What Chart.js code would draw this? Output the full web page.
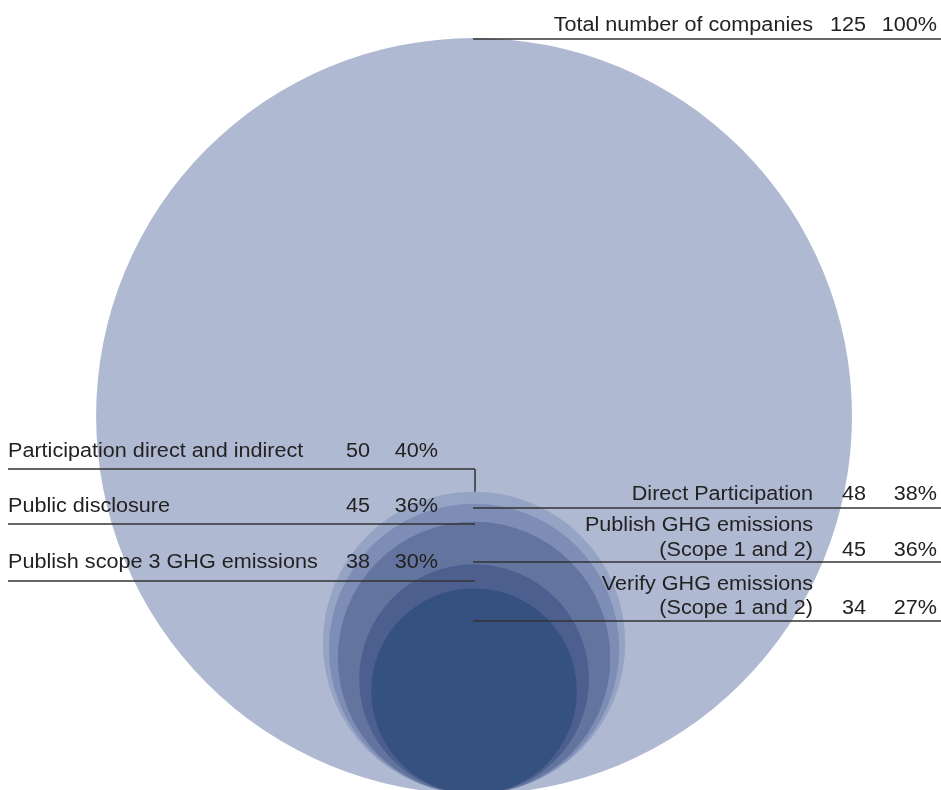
<!DOCTYPE html>
<html>
<head>
<meta charset="utf-8">
<script src="https://cdn.jsdelivr.net/npm/chart.js@4"></script>
<style>
    html, body { margin: 0; padding: 0; background: #fff; }
    #wrap { width: 941px; height: 790px; }
</style>
</head>
<body>
<div id="wrap"><canvas id="chart"></canvas></div>
<script>
// circles, biggest first, all sitting on the same bottom line
const categories = [
    "Total number of companies",
    "Participation direct and indirect",
    "Direct Participation",
    "Public disclosure",
    "Publish GHG emissions (Scope 1 and 2)",
    "Publish scope 3 GHG emissions",
    "Verify GHG emissions (Scope 1 and 2)",
];
const counts = [125, 50, 48, 45, 45, 38, 34];
const shares = ["100%", "40%", "38%", "36%", "36%", "30%", "27%"];
const fills = ["#b0b9d2", "#95a3c4", "#7d8db5", "#63749f", "#63749f", "#4c5f8e", "#34517f"];

const FONT = '20px "Liberation Sans", Arial, sans-serif';
const STRETCH = 1.08; // the source type is set a little wide
const INK = "#222";
const RULE = "#333";

// label layout: side, text lines, baselines, rule y
const labelLayout = [
    { side: "right", lines: ["Total number of companies"], base: [31], rule: 39 },
    { side: "left", lines: ["Participation direct and indirect"], base: [457], rule: 469, drop: true },
    { side: "right", lines: ["Direct Participation"], base: [500], rule: 508 },
    { side: "left", lines: ["Public disclosure"], base: [512], rule: 524 },
    { side: "right", lines: ["Publish GHG emissions", "(Scope 1 and 2)"], base: [531, 556], rule: 562 },
    { side: "left", lines: ["Publish scope 3 GHG emissions"], base: [568], rule: 581 },
    { side: "right", lines: ["Verify GHG emissions", "(Scope 1 and 2)"], base: [590, 614], rule: 621 },
];

function text(c, s, x, y, align) {
    c.save();
    c.translate(x, y);
    c.scale(STRETCH, 1);
    c.textAlign = align;
    c.fillText(s, 0, 0);
    c.restore();
}

const labelPlugin = {
    id: "labels",
    afterDatasetsDraw(chart) {
        const c = chart.ctx;
        const xs = chart.scales.x;
        const ys = chart.scales.y;
        const cx = xs.getPixelForValue(0);
        c.save();
        c.font = FONT;
        c.fillStyle = INK;
        c.textBaseline = "alphabetic";
        labelLayout.forEach((L, i) => {
            c.strokeStyle = RULE;
            c.lineWidth = 1.5;
            c.beginPath();
            if (L.side === "right") {
                c.moveTo(cx - 1, L.rule);
                c.lineTo(941, L.rule);
            } else {
                c.moveTo(8, L.rule);
                c.lineTo(cx + 1, L.rule);
            }
            if (L.drop) {
                // little tick down to the top of the circle
                const top = ys.getPixelForValue(counts[i] * 2);
                c.moveTo(cx + 1, L.rule);
                c.lineTo(cx + 1, top);
            }
            c.stroke();

            const last = L.lines.length - 1;
            if (L.side === "right") {
                L.lines.forEach((t, k) => text(c, t, 813, L.base[k], "right"));
                text(c, String(counts[i]), 866, L.base[last], "right");
                text(c, shares[i], 937, L.base[last], "right");
            } else {
                L.lines.forEach((t, k) => text(c, t, 8, L.base[k], "left"));
                text(c, String(counts[i]), 370, L.base[last], "right");
                text(c, shares[i], 438, L.base[last], "right");
            }
        });
        c.restore();
    },
};

// same pixels per unit on both axes; circle centre at y = count so all bottoms sit on y = 0
const chart = new Chart(document.getElementById("chart"), {
    type: "bubble",
    data: {
        datasets: [
            {
                data: counts.map((v) => ({ x: 0, y: v, r: 0 })),
                backgroundColor: fills,
                borderWidth: 0,
            },
        ],
    },
    options: {
        responsive: true,
        maintainAspectRatio: false,
        animation: false,
        events: [],
        layout: { padding: 0, autoPadding: false },
        clip: false,
        scales: {
            x: { type: "linear", display: false, min: -156.75, max: 154.4 },
            y: { type: "linear", display: false, min: 1.32, max: 262.6 },
        },
        plugins: {
            legend: { display: false },
            tooltip: { enabled: false },
        },
    },
    plugins: [labelPlugin],
});

// radius in pixels = count measured on the y scale
const ys = chart.scales.y;
chart.data.datasets[0].data.forEach((d) => {
    d.r = Math.abs(ys.getPixelForValue(0) - ys.getPixelForValue(d.y));
});
chart.update();
</script>
</body>
</html>
